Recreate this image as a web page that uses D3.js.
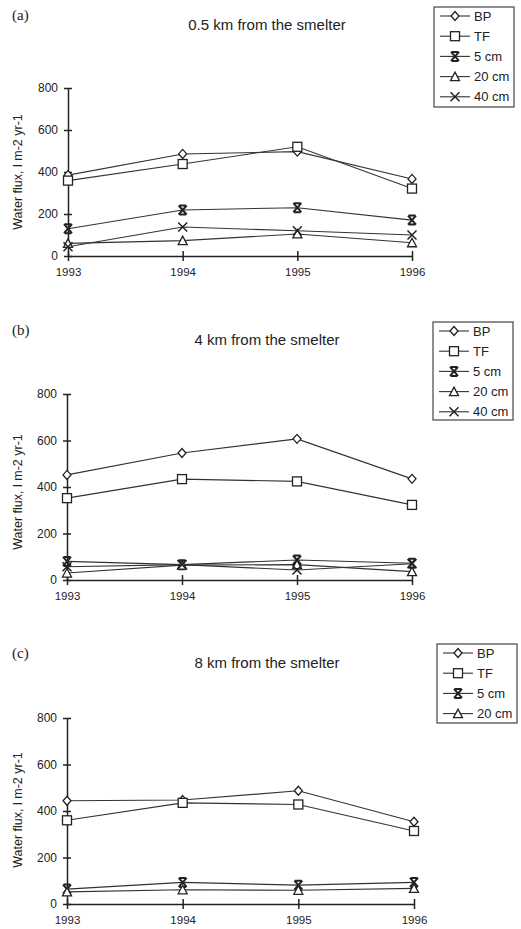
<!DOCTYPE html>
<html>
<head>
<meta charset="utf-8">
<script src="https://cdn.jsdelivr.net/npm/d3@7"></script>
<style>
  body { margin: 0; background: #fff; }
  svg { display: block; }
  .axis path, .axis line { stroke: #222; stroke-width: 1.5; }
  .axis text { font-family: "Liberation Sans", Arial, sans-serif; fill: #222; }
  .serie { fill: none; stroke: #333; stroke-width: 1.1; }
  .mark { fill: #fff; stroke: #222; stroke-width: 1.3; }
</style>
</head>
<body>
<div id="chart"></div>
<script>
//*********************** DATA ***********************
var years = [1993, 1994, 1995, 1996],
    yTicks = [0, 200, 400, 600, 800],
    seriesNames = ["BP", "TF", "5 cm", "20 cm", "40 cm"],
    panelLetters = ["(a)", "(b)", "(c)"],
    panelTitles = ["0.5 km from the smelter", "4 km from the smelter", "8 km from the smelter"],
    yLabel = "Water flux, l m-2 yr-1";

// (a) 0.5 km
var bpA   = [385, 486, 497, 367],
    tfA   = [359, 438, 520, 321],
    cm5A  = [130, 219, 230, 171],
    cm20A = [60, 73, 105, 63],
    cm40A = [44, 138, 120, 100];

// (b) 4 km
var bpB   = [452, 546, 607, 435],
    tfB   = [352, 434, 424, 323],
    cm5B  = [80, 66, 86, 72],
    cm20B = [30, 64, 66, 36],
    cm40B = [57, 66, 43, 70];

// (c) 8 km
var bpC   = [444, 447, 487, 354],
    tfC   = [360, 435, 428, 314],
    cm5C  = [64, 93, 81, 93],
    cm20C = [52, 61, 59, 67];

var panelData = [
  [bpA, tfA, cm5A, cm20A, cm40A],
  [bpB, tfB, cm5B, cm20B, cm40B],
  [bpC, tfC, cm5C, cm20C]
];

//*********************** LAYOUT ***********************
var width = 521, height = 929;
var layout = [
  {x0: 68, x1: 412, top: 88,  bot: 256, title: 30,  letter: 20,  ylab: 172, leg: {x: 434, y: 7,   w: 80, h: 100}},
  {x0: 67, x1: 412, top: 394, bot: 580, title: 345, letter: 335, ylab: 492, leg: {x: 433, y: 322, w: 80, h: 98}},
  {x0: 67, x1: 414, top: 718, bot: 904, title: 668, letter: 658, ylab: 810, leg: {x: 437, y: 644, w: 80, h: 79}}
];

var svg = d3.select("#chart").append("svg")
  .attr("width", width)
  .attr("height", height);

//*********************** MARKERS ***********************
function drawMarker(g, type, x, y) {
  if (type === 0) { // diamond
    g.append("path").attr("class", "mark")
      .attr("d", "M" + x + "," + (y - 4.5) + "L" + (x + 4) + "," + y + "L" + x + "," + (y + 4.5) + "L" + (x - 4) + "," + y + "Z");
  } else if (type === 1) { // square
    g.append("rect").attr("class", "mark")
      .attr("x", x - 4.5).attr("y", y - 4.5).attr("width", 9).attr("height", 9);
  } else if (type === 2) { // hourglass star
    g.append("path").attr("class", "mark").style("fill", "none").style("stroke-width", 2)
      .attr("d", "M" + (x - 4) + "," + (y - 4.5) + "L" + (x + 4) + "," + (y + 4.5) +
                 "M" + (x + 4) + "," + (y - 4.5) + "L" + (x - 4) + "," + (y + 4.5) +
                 "M" + (x - 3.5) + "," + (y - 4.5) + "L" + (x + 3.5) + "," + (y - 4.5) +
                 "M" + (x - 3.5) + "," + (y + 4.5) + "L" + (x + 3.5) + "," + (y + 4.5));
  } else if (type === 3) { // triangle
    g.append("path").attr("class", "mark")
      .attr("d", "M" + x + "," + (y - 4.5) + "L" + (x + 4.5) + "," + (y + 4) + "L" + (x - 4.5) + "," + (y + 4) + "Z");
  } else { // x
    g.append("path").attr("class", "mark").style("fill", "none").style("stroke-width", 1.5)
      .attr("d", "M" + (x - 4.5) + "," + (y - 4.5) + "L" + (x + 4.5) + "," + (y + 4.5) +
                 "M" + (x + 4.5) + "," + (y - 4.5) + "L" + (x - 4.5) + "," + (y + 4.5));
  }
}

//*********************** PANELS ***********************
panelData.forEach(function(series, p) {
  var L = layout[p];
  var g = svg.append("g");

  var xScale = d3.scaleLinear().domain([1993, 1996]).range([L.x0, L.x1]),
      yScale = d3.scaleLinear().domain([0, 800]).range([L.bot, L.top]);

  // letter and title
  g.append("text")
    .attr("x", 12).attr("y", L.letter)
    .style("font-family", "'Liberation Serif', 'Times New Roman', serif")
    .style("font-size", "15px").style("fill", "#222")
    .text(panelLetters[p]);

  g.append("text")
    .attr("x", 267).attr("y", L.title)
    .attr("text-anchor", "middle")
    .style("font-family", "'Liberation Sans', Arial, sans-serif")
    .style("font-size", "15px").style("fill", "#222")
    .text(panelTitles[p]);

  // axes
  var yAxis = d3.axisLeft(yScale).tickValues(yTicks).tickSize(4).tickSizeOuter(0).tickPadding(6);
  var ya = g.append("g").attr("class", "axis")
    .attr("transform", "translate(" + L.x0 + ",0)")
    .call(yAxis);
  ya.selectAll(".tick line").attr("x1", 4);
  ya.selectAll("text").style("font-size", "12px");

  var xAxis = d3.axisBottom(xScale).tickValues(years).tickFormat(d3.format("d")).tickSize(5).tickSizeOuter(0).tickPadding(7);
  var xa = g.append("g").attr("class", "axis")
    .attr("transform", "translate(0," + L.bot + ")")
    .call(xAxis);
  xa.selectAll(".tick line").attr("y1", -5);
  xa.selectAll("text").style("font-size", "11.5px");

  // y label
  g.append("text")
    .attr("transform", "translate(22," + L.ylab + ") rotate(-90)")
    .attr("text-anchor", "middle")
    .style("font-family", "'Liberation Sans', Arial, sans-serif")
    .style("font-size", "12.5px").style("fill", "#222")
    .text(yLabel);

  // lines and markers
  var line = d3.line()
    .x(function(d, i) { return xScale(years[i]); })
    .y(function(d) { return yScale(d); });

  series.forEach(function(vals, s) {
    g.append("path").datum(vals).attr("class", "serie").attr("d", line);
  });
  series.forEach(function(vals, s) {
    vals.forEach(function(v, i) {
      drawMarker(g, s, xScale(years[i]), yScale(v));
    });
  });

  // legend
  var lg = g.append("g").attr("transform", "translate(" + L.leg.x + "," + L.leg.y + ")");
  lg.append("rect")
    .attr("width", L.leg.w).attr("height", L.leg.h)
    .attr("fill", "#fff").attr("stroke", "#444").attr("stroke-width", 1.2);
  series.forEach(function(vals, s) {
    var ry = 9 + s * 20.2;
    lg.append("line")
      .attr("x1", 6).attr("x2", 36).attr("y1", ry).attr("y2", ry)
      .attr("stroke", "#333").attr("stroke-width", 1.1);
    drawMarker(lg, s, 21, ry);
    lg.append("text")
      .attr("x", 40).attr("y", ry + 4.5)
      .style("font-family", "'Liberation Sans', Arial, sans-serif")
      .style("font-size", "13px").style("fill", "#222")
      .text(seriesNames[s]);
  });
});
</script>
</body>
</html>
